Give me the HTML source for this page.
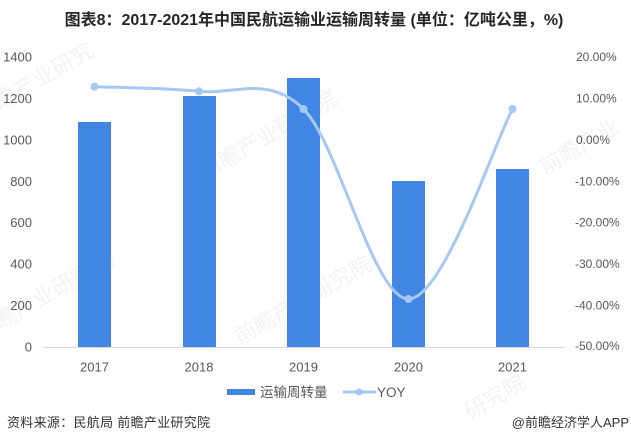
<!DOCTYPE html>
<html>
<head>
<meta charset="utf-8">
<style>
  html,body{margin:0;padding:0;background:#fff;}
  svg{display:block;}
  text{font-family:"Liberation Sans","Noto Sans CJK SC",sans-serif;}
</style>
</head>
<body>
<svg width="631" height="443" viewBox="0 0 631 443" xmlns="http://www.w3.org/2000/svg">
  <rect width="631" height="443" fill="#fff"/>
  <!-- watermarks -->
  <g fill="#f2f2f4" font-size="22">
    <text x="0" y="110" transform="rotate(-30 0 110)">瞻产业研究</text>
    <text x="205" y="180" transform="rotate(-30 205 180)">前瞻产业研究院</text>
    <text x="0" y="330" transform="rotate(-30 0 330)">瞻产业研究院</text>
    <text x="240" y="345" transform="rotate(-30 240 345)">前瞻产业研究院</text>
    <text x="545" y="175" transform="rotate(-30 545 175)">前瞻产业</text>
    <text x="470" y="420" transform="rotate(-30 470 420)">研究院</text>
  </g>
  <!-- title -->
  <text x="314" y="25" text-anchor="middle" font-size="16" font-weight="bold" fill="#262626">图表8：2017-2021年中国民航运输业运输周转量 (单位：亿吨公里，%)</text>

  <!-- left axis labels -->
  <g font-size="13" fill="#595959" text-anchor="end">
    <text x="32" y="351.5">0</text>
    <text x="32" y="310">200</text>
    <text x="32" y="268.6">400</text>
    <text x="32" y="227.2">600</text>
    <text x="32" y="185.8">800</text>
    <text x="32" y="144.3">1000</text>
    <text x="32" y="102.9">1200</text>
    <text x="32" y="61.5">1400</text>
  </g>
  <!-- right axis labels -->
  <g font-size="12" fill="#595959" text-anchor="start">
    <text x="576" y="61">20.00%</text>
    <text x="576" y="102.4">10.00%</text>
    <text x="576" y="143.8">0.00%</text>
    <text x="575" y="185.3">-10.00%</text>
    <text x="575" y="226.7">-20.00%</text>
    <text x="575" y="268.1">-30.00%</text>
    <text x="575" y="309.5">-40.00%</text>
    <text x="575" y="350">-50.00%</text>
  </g>

  <!-- bars -->
  <g fill="#4286e3">
    <rect x="78" y="122" width="33" height="225"/>
    <rect x="183" y="96" width="33" height="251"/>
    <rect x="287" y="78" width="33" height="269"/>
    <rect x="392" y="181" width="33" height="166"/>
    <rect x="496" y="169" width="33" height="178"/>
  </g>
  <!-- axis line -->
  <line x1="43" y1="347.5" x2="565" y2="347.5" stroke="#d9d9d9" stroke-width="1"/>

  <!-- x labels -->
  <g font-size="13" fill="#595959" text-anchor="middle">
    <text x="94.5" y="371.5">2017</text>
    <text x="199" y="371.5">2018</text>
    <text x="303.5" y="371.5">2019</text>
    <text x="408.5" y="371.5">2020</text>
    <text x="512.5" y="371.5">2021</text>
  </g>

  <!-- YOY line -->
  <path d="M94.5,86.7 C111.9,87.5 164.2,87.6 199,91.3 C233.8,95 268.6,74.4 303.5,109 C338.4,143.6 373.7,299 408.5,299 C443.3,299 495.2,140.7 512.5,109"
        fill="none" stroke="#a6c8f4" stroke-width="3" stroke-linecap="round"/>
  <g fill="#a6c8f4">
    <circle cx="94.5" cy="86.7" r="4"/>
    <circle cx="199" cy="91.3" r="4"/>
    <circle cx="303.5" cy="109" r="4"/>
    <circle cx="408.5" cy="299" r="4"/>
    <circle cx="512.5" cy="109" r="4"/>
  </g>

  <!-- legend -->
  <rect x="227" y="389" width="28" height="6" fill="#4286e3"/>
  <text x="260" y="397" font-size="13.5" fill="#595959">运输周转量</text>
  <line x1="343" y1="392" x2="376" y2="392" stroke="#a6c8f4" stroke-width="3"/>
  <circle cx="359" cy="392" r="3.5" fill="#a6c8f4"/>
  <text x="377" y="397" font-size="13.5" fill="#595959">YOY</text>

  <!-- footer -->
  <text x="7" y="427" font-size="13" fill="#333" letter-spacing="0.3">资料来源：民航局 前瞻产业研究院</text>
  <text x="629" y="427" font-size="13" fill="#333" text-anchor="end">@前瞻经济学人APP</text>
</svg>
</body>
</html>
